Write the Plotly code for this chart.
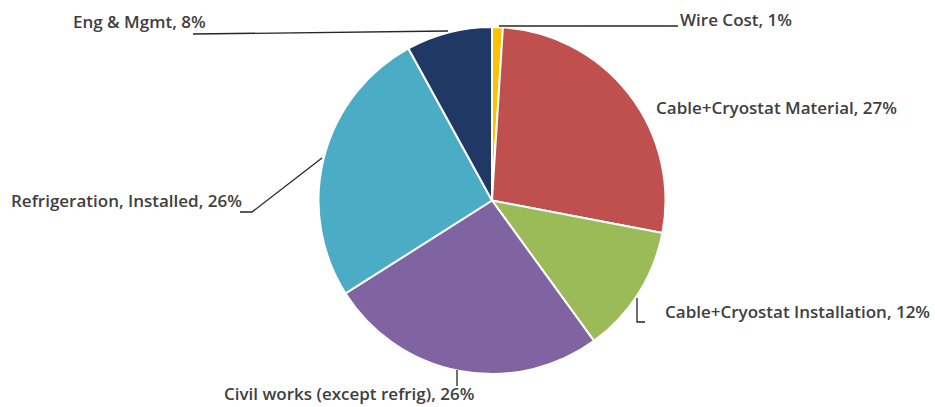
import plotly.graph_objects as go

labels = ["Wire Cost", "Cable+Cryostat Material", "Cable+Cryostat Installation",
          "Civil works (except refrig)", "Refrigeration, Installed", "Eng & Mgmt"]
values = [1, 27, 12, 26, 26, 8]
colors = ["#FFC000", "#C0504D", "#9BBB59", "#8064A2", "#4BACC6", "#1F3864"]

W, H = 935, 407

def px(x):
    return x / W

def py(y):
    return 1 - y / H

fig = go.Figure(go.Pie(
    labels=labels, values=values, sort=False, direction="clockwise", rotation=0,
    marker=dict(colors=colors, line=dict(color="white", width=2)),
    textinfo="none", hoverinfo="label+percent", showlegend=False,
    domain=dict(x=[px(318), px(666)], y=[py(374), py(27)]),
))

# label placement (pixel positions of text anchors) and leader lines
label_pos = [
    (678, 20, "left"),
    (654, 108, "left"),
    (663, 311, "left"),
    (222, 393, "left"),
    (9, 201, "left"),
    (71, 21, "left"),
]
leaders = [
    [(499, 26), (678, 26)],
    None,
    [(637, 298), (637, 322), (645, 322)],
    [(457, 370), (457, 386)],
    [(322, 158), (252, 212), (240, 212)],
    [(448, 31), (193, 34)],
]

total = sum(values)
annotations = []
for lab, val, (x, y, anc) in zip(labels, values, label_pos):
    annotations.append(dict(
        x=px(x), y=py(y), xref="paper", yref="paper", xanchor=anc, yanchor="middle",
        text=f"{lab}, {round(100 * val / total)}%", showarrow=False,
        font=dict(family="Open Sans", size=17, color="#404040", weight=600),
    ))

shapes = []
for pts in leaders:
    if not pts:
        continue
    path = "M " + " L ".join(f"{px(a)},{py(b)}" for a, b in pts)
    shapes.append(dict(type="path", path=path, xref="paper", yref="paper",
                       line=dict(color="#262626", width=1.3)))

fig.update_layout(
    width=W, height=H, margin=dict(l=0, r=0, t=0, b=0),
    paper_bgcolor="white", plot_bgcolor="white",
    annotations=annotations, shapes=shapes,
)

fig.write_html("out.html")
